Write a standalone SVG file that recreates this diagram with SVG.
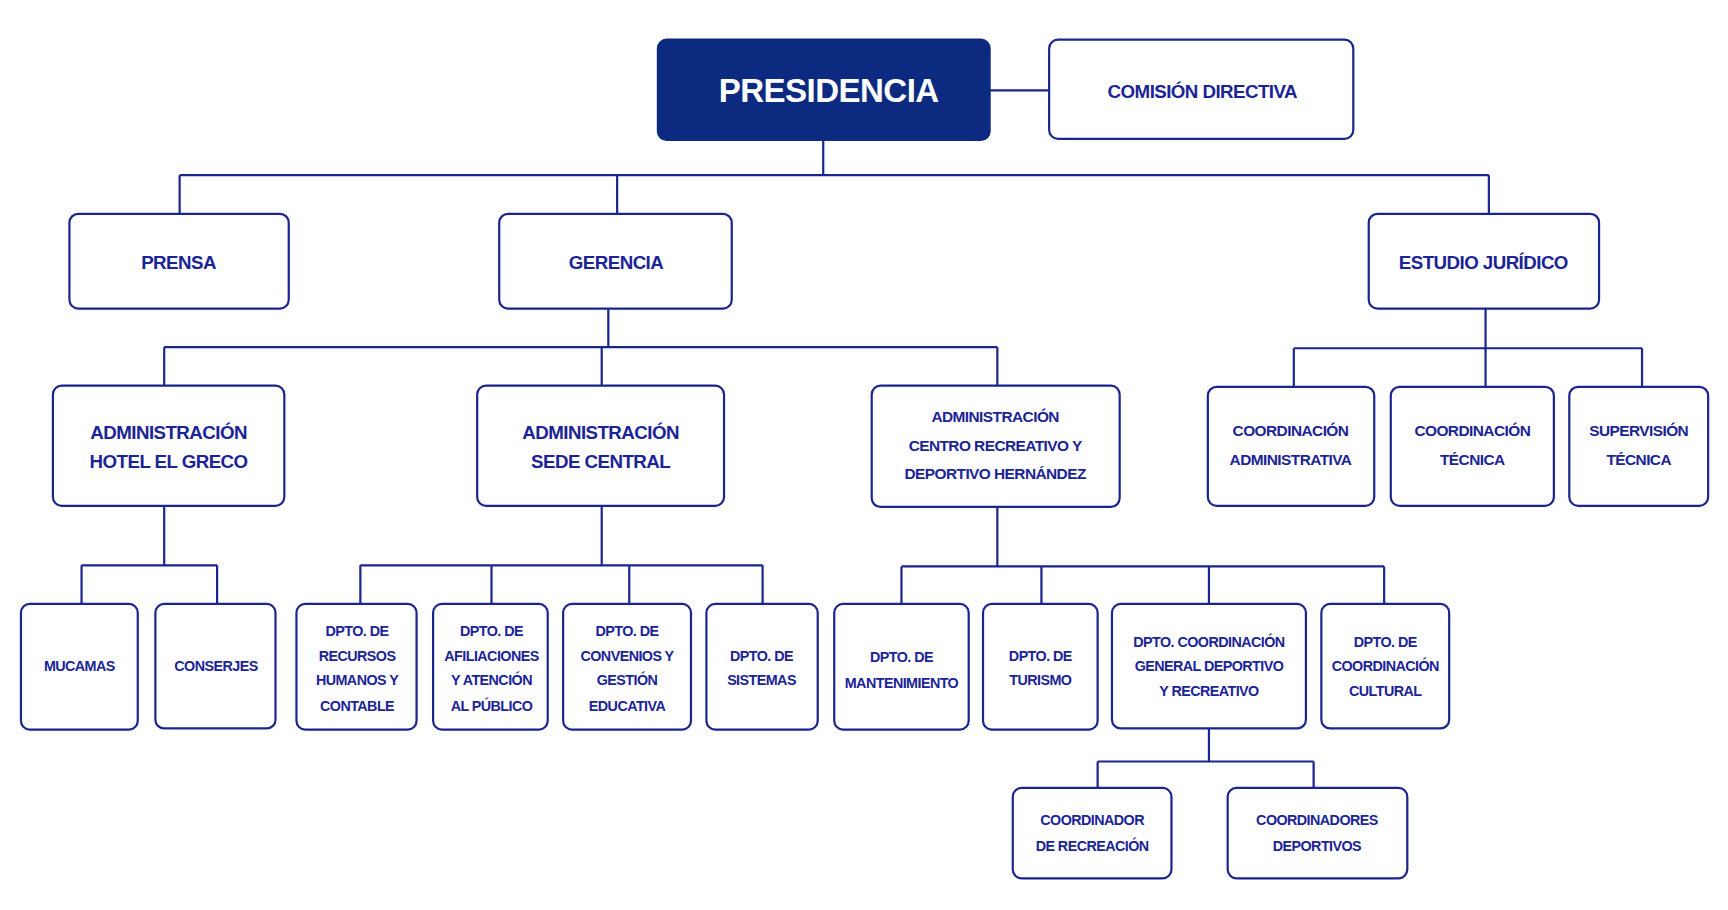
<svg xmlns="http://www.w3.org/2000/svg" width="1728" height="910" viewBox="0 0 1728 910">
<style>
.b{fill:#fff;stroke:#1b2590;stroke-width:2}
.c{fill:none;stroke:#1b2590;stroke-width:2}
text{font-family:"Liberation Sans",Arial,sans-serif;font-weight:bold;fill:#1b2496;text-anchor:middle;letter-spacing:-0.5px}
.l{font-size:17px}.m{font-size:14px}.s{font-size:13px}
</style>
<rect width="1728" height="910" fill="#fff"/>
<g transform="scale(1.10204)">
<g id="connectors" class="c">
<path d="M898 82H952M747 127V159M163 159H1351M163 159V194M560 159V194M1351 159V194"/>
<path d="M552 280V315M149 315H905M149 315V350M546 315V350M905 315V350"/>
<path d="M1348 280V316M1174 316H1490M1174 316V351M1348 316V351M1490 316V351"/>
<path d="M149 459V513M74 513H197M74 513V548M197 513V548"/>
<path d="M546 459V513M327 513H692M327 513V548M446 513V548M571 513V548M692 513V548"/>
<path d="M905 460V514M818 514H1256M818 514V548M945 514V548M1097 514V548M1256 514V548"/>
<path d="M1097 661V691M996 691H1192M996 691V715M1192 691V715"/>
</g>
<g id="presidencia"><rect x="597" y="36" width="301" height="91" rx="8" fill="#0c2a80" stroke="#0c2a80" stroke-width="2"/><text x="752" y="93" style="font-size:30px;fill:#fff">PRESIDENCIA</text></g>
<g id="comision"><rect class="b" x="952" y="36" width="276" height="90" rx="8"/><text class="l" x="1091" y="89">COMISIÓN DIRECTIVA</text></g>
<g id="prensa"><rect class="b" x="63" y="194" width="199" height="86" rx="8"/><text class="l" x="162" y="244">PRENSA</text></g>
<g id="gerencia"><rect class="b" x="453" y="194" width="211" height="86" rx="8"/><text class="l" x="559" y="244">GERENCIA</text></g>
<g id="estudio"><rect class="b" x="1242" y="194" width="209" height="86" rx="8"/><text class="l" x="1346" y="244">ESTUDIO JURÍDICO</text></g>
<g id="adm-hotel"><rect class="b" x="48" y="350" width="210" height="109" rx="8"/><text class="l" x="153" y="398">ADMINISTRACIÓN</text><text class="l" x="153" y="425">HOTEL EL GRECO</text></g>
<g id="adm-sede"><rect class="b" x="433" y="350" width="224" height="109" rx="8"/><text class="l" x="545" y="398">ADMINISTRACIÓN</text><text class="l" x="545" y="425">SEDE CENTRAL</text></g>
<g id="adm-centro"><rect class="b" x="791" y="350" width="225" height="110" rx="8"/><text class="m" x="903" y="383">ADMINISTRACIÓN</text><text class="m" x="903" y="409">CENTRO RECREATIVO Y</text><text class="m" x="903" y="435">DEPORTIVO HERNÁNDEZ</text></g>
<g id="coord-adm"><rect class="b" x="1096" y="351" width="151" height="108" rx="8"/><text class="m" x="1171" y="396">COORDINACIÓN</text><text class="m" x="1171" y="422">ADMINISTRATIVA</text></g>
<g id="coord-tec"><rect class="b" x="1262" y="351" width="148" height="108" rx="8"/><text class="m" x="1336" y="396">COORDINACIÓN</text><text class="m" x="1336" y="422">TÉCNICA</text></g>
<g id="superv"><rect class="b" x="1424" y="351" width="126" height="108" rx="8"/><text class="m" x="1487" y="396">SUPERVISIÓN</text><text class="m" x="1487" y="422">TÉCNICA</text></g>
<g id="mucamas"><rect class="b" x="19" y="548" width="106" height="114" rx="8"/><text class="s" x="72" y="609">MUCAMAS</text></g>
<g id="conserjes"><rect class="b" x="141" y="548" width="109" height="113" rx="8"/><text class="s" x="196" y="609">CONSERJES</text></g>
<g id="rrhh"><rect class="b" x="269" y="548" width="109" height="114" rx="8"/><text class="s" x="324" y="577">DPTO. DE</text><text class="s" x="324" y="600">RECURSOS</text><text class="s" x="324" y="622">HUMANOS Y</text><text class="s" x="324" y="645">CONTABLE</text></g>
<g id="afil"><rect class="b" x="393" y="548" width="104" height="114" rx="8"/><text class="s" x="446" y="577">DPTO. DE</text><text class="s" x="446" y="600">AFILIACIONES</text><text class="s" x="446" y="622">Y ATENCIÓN</text><text class="s" x="446" y="645">AL PÚBLICO</text></g>
<g id="convenios"><rect class="b" x="511" y="548" width="116" height="114" rx="8"/><text class="s" x="569" y="577">DPTO. DE</text><text class="s" x="569" y="600">CONVENIOS Y</text><text class="s" x="569" y="622">GESTIÓN</text><text class="s" x="569" y="645">EDUCATIVA</text></g>
<g id="sistemas"><rect class="b" x="641" y="548" width="101" height="114" rx="8"/><text class="s" x="691" y="600">DPTO. DE</text><text class="s" x="691" y="622">SISTEMAS</text></g>
<g id="mant"><rect class="b" x="757" y="548" width="122" height="114" rx="8"/><text class="s" x="818" y="601">DPTO. DE</text><text class="s" x="818" y="624">MANTENIMIENTO</text></g>
<g id="turismo"><rect class="b" x="892" y="548" width="104" height="114" rx="8"/><text class="s" x="944" y="600">DPTO. DE</text><text class="s" x="944" y="622">TURISMO</text></g>
<g id="coord-gen"><rect class="b" x="1009" y="548" width="176" height="113" rx="8"/><text class="s" x="1097" y="587">DPTO. COORDINACIÓN</text><text class="s" x="1097" y="609">GENERAL DEPORTIVO</text><text class="s" x="1097" y="632">Y RECREATIVO</text></g>
<g id="cultural"><rect class="b" x="1199" y="548" width="116" height="113" rx="8"/><text class="s" x="1257" y="587">DPTO. DE</text><text class="s" x="1257" y="609">COORDINACIÓN</text><text class="s" x="1257" y="632">CULTURAL</text></g>
<g id="coord-rec"><rect class="b" x="919" y="715" width="144" height="82" rx="8"/><text class="s" x="991" y="749">COORDINADOR</text><text class="s" x="991" y="772">DE RECREACIÓN</text></g>
<g id="coord-dep"><rect class="b" x="1114" y="715" width="163" height="82" rx="8"/><text class="s" x="1195" y="749">COORDINADORES</text><text class="s" x="1195" y="772">DEPORTIVOS</text></g>
</g>
</svg>
